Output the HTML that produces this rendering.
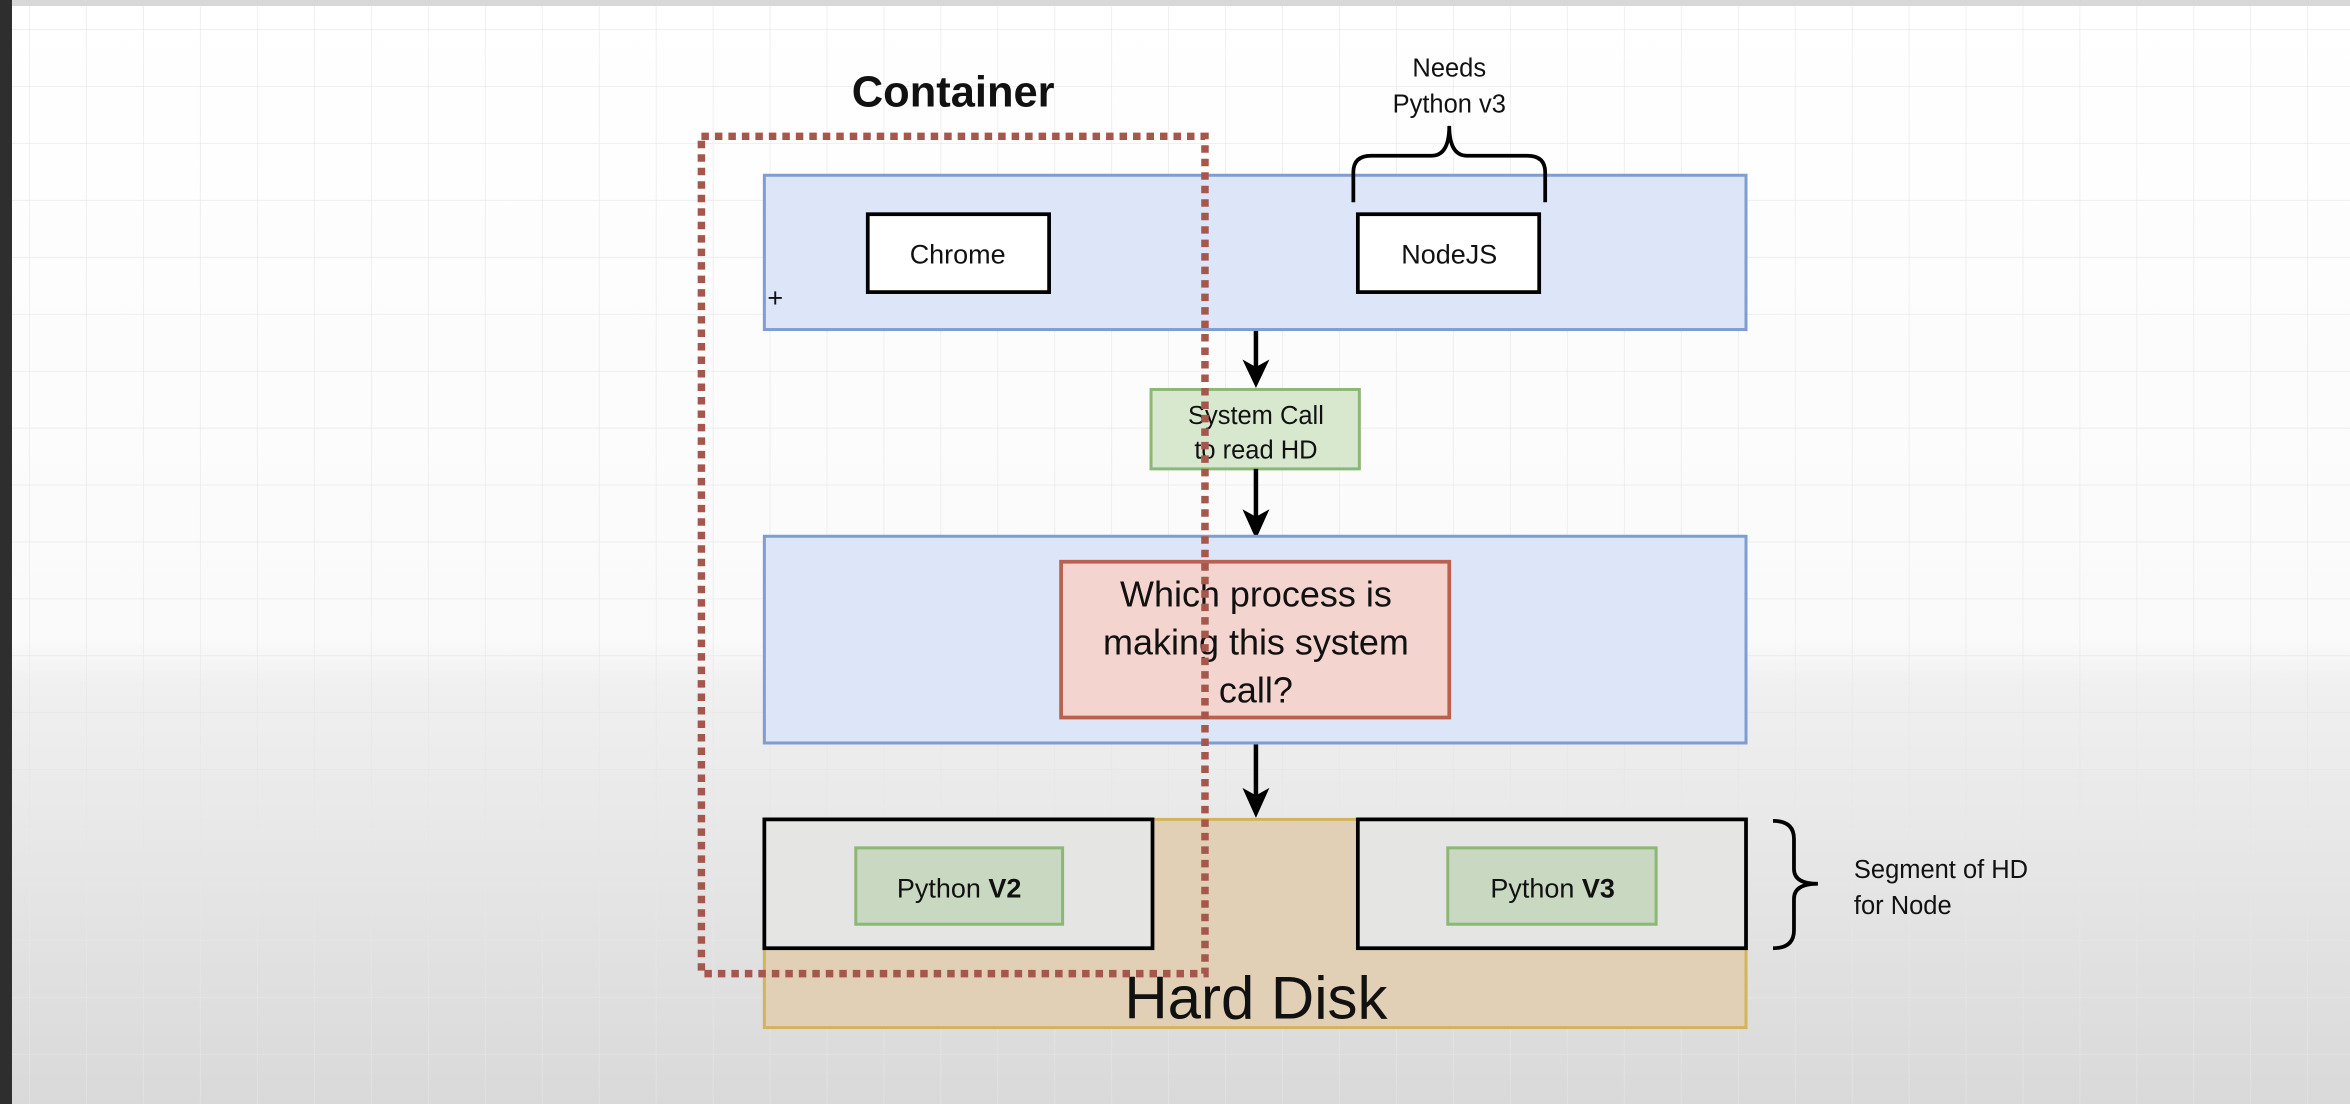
<!DOCTYPE html>
<html><head><meta charset="utf-8"><style>
html,body{margin:0;padding:0;width:2350px;height:1104px;overflow:hidden;background:#fff}
svg{display:block}
text{font-family:"Liberation Sans",sans-serif;fill:#111}
</style></head><body>
<svg width="2350" height="1104" viewBox="0 0 1568 737" preserveAspectRatio="none">
<defs>
<linearGradient id="bg" x1="0" y1="0" x2="0" y2="1">
<stop offset="0" stop-color="#ffffff"/><stop offset="0.58" stop-color="#fafafa"/><stop offset="0.62" stop-color="#f0f0f0"/><stop offset="1" stop-color="#d9d9d9"/>
</linearGradient>
<pattern id="grid" width="38" height="38" patternUnits="userSpaceOnUse" x="20" y="20">
<path d="M38 0V38H0" fill="none" stroke="#e6e6e6" stroke-width="0.8"/>
</pattern>
</defs>
<rect width="1568" height="737" fill="url(#bg)"/>
<rect width="1568" height="737" fill="url(#grid)"/>
<rect x="0" y="0" width="1568" height="4" fill="#d8d8d8"/>
<rect x="0" y="0" width="8" height="737" fill="#2e2e2e"/>

<!-- top blue -->
<rect x="510" y="117" width="655" height="103" fill="#dce6f8" stroke="#7f9dd0" stroke-width="2"/>
<rect x="579" y="143" width="121" height="52" fill="#fff" stroke="#000" stroke-width="2.5"/>
<text x="639" y="176" font-size="18" text-anchor="middle">Chrome</text>
<rect x="906" y="143" width="121" height="52" fill="#fff" stroke="#000" stroke-width="2.5"/>
<text x="967" y="176" font-size="18" text-anchor="middle">NodeJS</text>
<path d="M903 135 V115 Q903 104 915 104 H955 Q967 104 967 84 Q967 104 979 104 H1019 Q1031 104 1031 115 V135" fill="none" stroke="#000" stroke-width="2.5"/>
<text x="967" y="51" font-size="17" text-anchor="middle">Needs</text>
<text x="967" y="75" font-size="17" text-anchor="middle">Python v3</text>
<text x="636" y="71" font-size="29" font-weight="bold" text-anchor="middle">Container</text>

<!-- arrows + syscall -->
<line x1="838" y1="221" x2="838" y2="250" stroke="#000" stroke-width="3"/>
<path d="M829 240 L838 259 L847 240 L838 245 Z" fill="#000"/>
<rect x="768" y="260" width="139" height="53" fill="#d8e8cf" stroke="#8cb874" stroke-width="2"/>
<text x="838" y="283" font-size="17" text-anchor="middle">System Call</text>
<text x="838" y="306" font-size="17" text-anchor="middle">to read HD</text>
<line x1="838" y1="313" x2="838" y2="350" stroke="#000" stroke-width="3"/>
<path d="M829 340 L838 360 L847 340 L838 345 Z" fill="#000"/>

<!-- middle blue -->
<rect x="510" y="358" width="655" height="138" fill="#dce6f8" stroke="#7f9dd0" stroke-width="2"/>
<rect x="708" y="375" width="259" height="104" fill="#f4d4cf" stroke="#b9604f" stroke-width="2.5"/>
<text x="838" y="405" font-size="24" text-anchor="middle">Which process is</text>
<text x="838" y="437" font-size="24" text-anchor="middle">making this system</text>
<text x="838" y="469" font-size="24" text-anchor="middle">call?</text>
<line x1="838" y1="497" x2="838" y2="535" stroke="#000" stroke-width="3"/>
<path d="M829 526 L838 546 L847 526 L838 531 Z" fill="#000"/>

<!-- hard disk -->
<rect x="510" y="547" width="655" height="139" fill="#e2d0b6" stroke="#d2b45e" stroke-width="2"/>
<text x="838" y="680" font-size="40" text-anchor="middle">Hard Disk</text>
<rect x="510" y="547" width="259" height="86" fill="#e5e5e3" stroke="#000" stroke-width="2.5"/>
<rect x="571" y="566" width="138" height="51" fill="#c9d8c1" stroke="#8cb874" stroke-width="2"/>
<text x="640" y="599" font-size="18" text-anchor="middle">Python <tspan font-weight="bold">V2</tspan></text>
<rect x="906" y="547" width="259" height="86" fill="#e5e5e3" stroke="#000" stroke-width="2.5"/>
<rect x="966" y="566" width="139" height="51" fill="#c9d8c1" stroke="#8cb874" stroke-width="2"/>
<text x="1036" y="599" font-size="18" text-anchor="middle">Python <tspan font-weight="bold">V3</tspan></text>
<path d="M1183 548 Q1197 548 1197 560 V580 Q1197 590 1213 590 Q1197 590 1197 600 V621 Q1197 633 1183 633" fill="none" stroke="#000" stroke-width="2.5"/>
<text x="1237" y="586" font-size="17">Segment of HD</text>
<text x="1237" y="610" font-size="17">for Node</text>

<!-- container dotted -->
<rect x="468" y="91" width="336" height="559" fill="none" stroke="#a5574c" stroke-width="5" stroke-dasharray="5 4"/>
<text x="512" y="205" font-size="18">+</text>
</svg>
</body></html>
